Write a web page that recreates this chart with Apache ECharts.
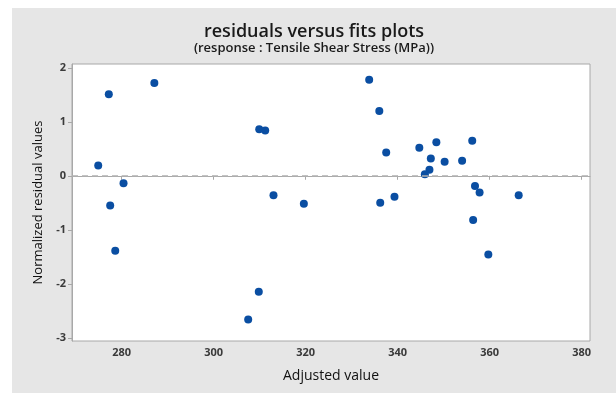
<!DOCTYPE html>
<html>
<head>
<meta charset="utf-8">
<script src="https://cdn.jsdelivr.net/npm/echarts@6/dist/echarts.min.js"></script>
<style>
  html, body { margin: 0; padding: 0; background: #ffffff; }
  #chart { position: absolute; left: 12px; top: 8px; width: 604px; height: 385px; background: #e6e6e6; }
</style>
</head>
<body>
<div id="chart"></div>
<script>
// Data
const fitsX = [274.9, 277.2, 277.5, 278.6, 280.4, 287.1, 309.9, 311.2, 313.0, 319.6,
               309.8, 307.5, 333.8, 336.0, 337.5, 336.2, 339.3, 344.7, 348.4, 347.2,
               350.2, 354.0, 356.2, 346.9, 345.9, 356.8, 357.8, 366.3, 356.4, 359.7];
const residY = [0.19, 1.51, -0.55, -1.39, -0.14, 1.72, 0.86, 0.84, -0.36, -0.52,
                -2.15, -2.66, 1.78, 1.20, 0.43, -0.50, -0.39, 0.52, 0.62, 0.32,
                0.26, 0.28, 0.65, 0.11, 0.03, -0.19, -0.31, -0.36, -0.82, -1.46];
const xTicks = [280, 300, 320, 340, 360, 380];
const yTicks = [-3, -2, -1, 0, 1, 2];
const titleText = 'residuals versus fits plots';
const subText = '(response : Tensile Shear Stress (MPa))';
const xName = 'Adjusted value';
const yName = 'Normalized residual values';

const points = fitsX.map((x, i) => [x, residY[i]]);
const FONT = '"Open Sans", "Noto Sans", sans-serif';

const chart = echarts.init(document.getElementById('chart'), null, { renderer: 'canvas' });
chart.setOption({
  backgroundColor: 'transparent',
  animation: false,
  title: {
    text: titleText,
    subtext: subText,
    left: 'center',
    top: 10,
    itemGap: 1,
    textStyle: { fontFamily: FONT, fontSize: 18, fontWeight: 600, color: '#1a1a1a' },
    subtextStyle: { fontFamily: FONT, fontSize: 13, fontWeight: 600, color: '#1a1a1a' }
  },
  grid: {
    left: 60, top: 56, right: 26, bottom: 52,
    show: true, backgroundColor: '#ffffff', borderColor: '#a8a8a8', borderWidth: 1
  },
  xAxis: {
    type: 'value',
    min: 269.2, max: 381.8,
    name: xName,
    nameLocation: 'middle',
    nameGap: 28,
    nameTextStyle: { fontFamily: FONT, fontSize: 14, fontWeight: 500, color: '#111111' },
    splitLine: { show: false },
    axisLine: { show: true, lineStyle: { color: '#a8a8a8' } },
    axisTick: { show: true, customValues: xTicks, length: 4, lineStyle: { color: '#a8a8a8' } },
    axisLabel: { customValues: xTicks, fontFamily: FONT, fontSize: 11, fontWeight: 'bold', color: '#3a3a3a', margin: 6 }
  },
  yAxis: {
    type: 'value',
    min: -3.06, max: 2.07,
    name: yName,
    nameLocation: 'middle',
    nameGap: 20,
    nameTextStyle: { fontFamily: FONT, fontSize: 13, fontWeight: 500, color: '#111111' },
    splitLine: { show: false },
    axisLine: { show: true, lineStyle: { color: '#a8a8a8' } },
    axisTick: { show: true, customValues: yTicks, length: 4, lineStyle: { color: '#a8a8a8' } },
    axisLabel: { customValues: yTicks, fontFamily: FONT, fontSize: 11, fontWeight: 'bold', color: '#3a3a3a', margin: 6 }
  },
  series: [{
    type: 'scatter',
    data: points,
    symbol: 'circle',
    symbolSize: 8,
    itemStyle: { color: '#0a4ea2', opacity: 1 },
    markLine: {
      silent: true,
      symbol: 'none',
      label: { show: false },
      lineStyle: { color: '#b0b0b0', width: 1.5, type: [6, 4] },
      data: [{ yAxis: 0 }]
    }
  }]
});
</script>
</body>
</html>
